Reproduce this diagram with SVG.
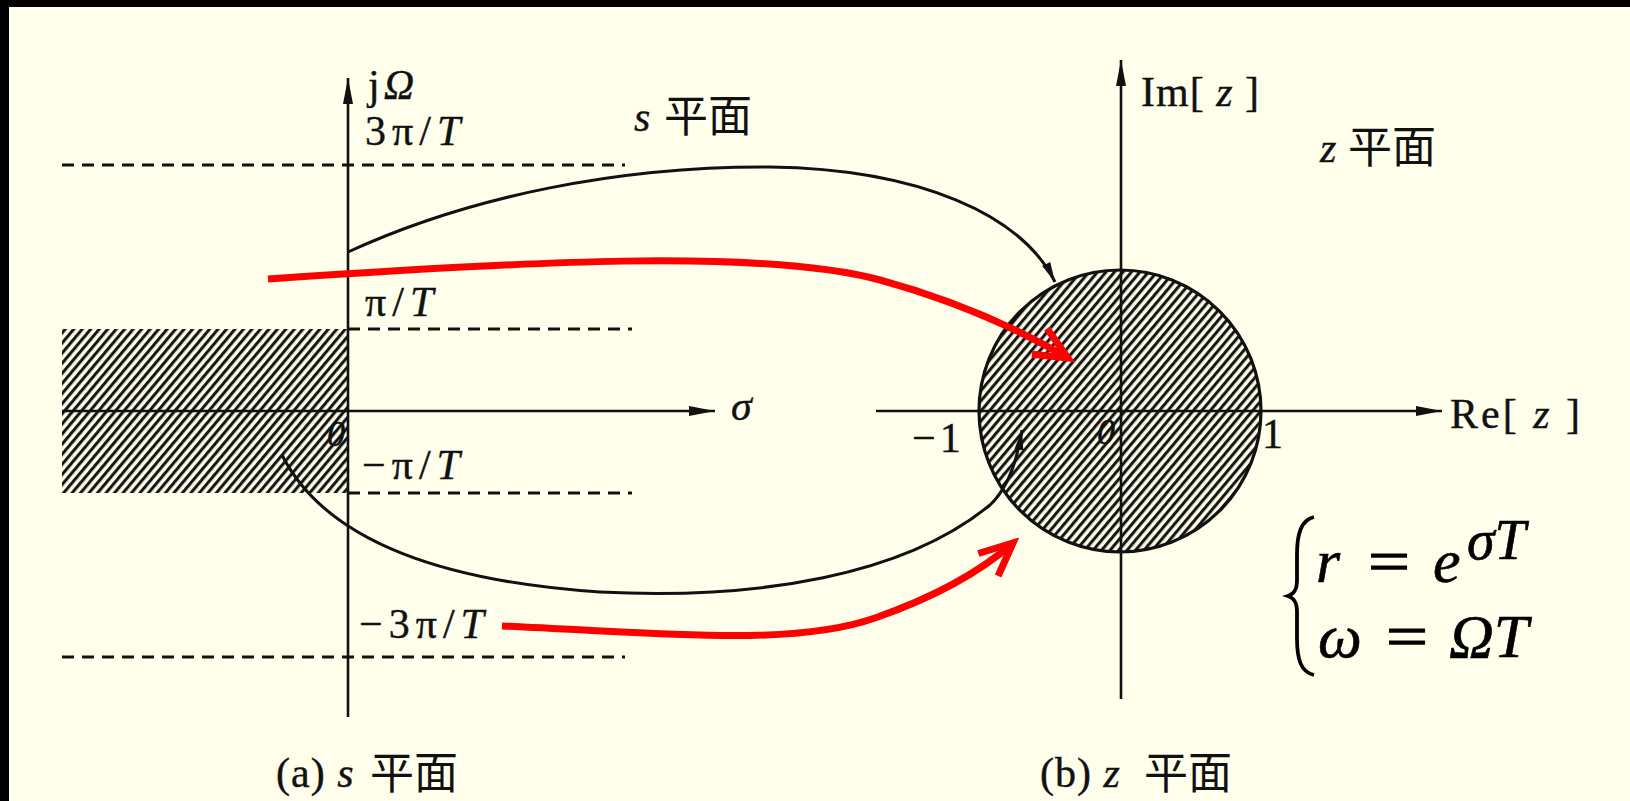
<svg xmlns="http://www.w3.org/2000/svg" width="1630" height="801" viewBox="0 0 1630 801">
<defs>
<style>
.ax{stroke:#111;stroke-width:2.6;fill:none}
.dash{stroke:#111;stroke-width:3;stroke-dasharray:12 8;fill:none}
.curve{stroke:#111;stroke-width:3;fill:none}
.red{stroke:#FF0000;stroke-width:7;fill:none}
.lbl{font-family:"Liberation Serif","Noto Sans CJK SC",serif;font-size:42px;letter-spacing:4px;fill:#111;stroke:#111;stroke-width:0.4}
.wide{letter-spacing:6px}
.it{font-style:italic}
.cjk{font-family:"Noto Sans CJK SC","Liberation Serif",sans-serif;font-size:44px;fill:#111}
.math{font-family:"Liberation Serif",serif;font-style:italic;font-size:62px;fill:#000;stroke:#000;stroke-width:0.6}
.mathr{font-family:"Liberation Serif",serif;font-size:62px;fill:#000;stroke:#000;stroke-width:1.2}
</style>
<pattern id="hatch" patternUnits="userSpaceOnUse" width="6.5" height="20" patternTransform="rotate(40)">
<rect width="6.5" height="20" fill="#FFFFEC"/>
<line x1="1.6" y1="0" x2="1.6" y2="20" stroke="#111" stroke-width="3"/>
</pattern>
<marker id="tri" markerUnits="userSpaceOnUse" markerWidth="30" markerHeight="14" viewBox="-28 -7 30 14" refX="0" refY="0" orient="auto">
<path d="M0,0 L-26,-5 L-26,5 Z" fill="#111"/>
</marker>
<marker id="tris" markerUnits="userSpaceOnUse" markerWidth="24" markerHeight="14" viewBox="-22 -7 24 14" refX="0" refY="0" orient="auto">
<path d="M0,0 L-20,-4.5 L-20,4.5 Z" fill="#111"/>
</marker>
<marker id="vred" markerUnits="userSpaceOnUse" markerWidth="50" markerHeight="50" viewBox="-40 -25 50 50" refX="0" refY="0" orient="auto">
<path d="M-33,-15 L0,0 L-33,15" fill="none" stroke="#FF0000" stroke-width="7"/>
</marker>
</defs>

<rect x="0" y="0" width="1630" height="801" fill="#000"/>
<rect x="9" y="7" width="1621" height="794" fill="#FFFFEC"/>

<g id="s-plane">
<rect x="62" y="329" width="286" height="164" fill="url(#hatch)"/>
<line class="dash" x1="62" y1="165" x2="625" y2="165"/>
<line class="dash" x1="348" y1="329" x2="632" y2="329"/>
<line class="dash" x1="348" y1="493" x2="632" y2="493"/>
<line class="dash" x1="62" y1="657" x2="625" y2="657"/>
<line class="ax" x1="348" y1="717" x2="348" y2="78" marker-end="url(#tri)"/>
<line class="ax" x1="62" y1="411" x2="715" y2="411" marker-end="url(#tri)"/>
<text class="lbl" x="368" y="99">j<tspan class="it">Ω</tspan></text>
<text class="lbl wide" x="365" y="145">3π/<tspan class="it">T</tspan></text>
<text class="lbl it" x="634" y="131">s</text>
<text class="cjk" x="664" y="132">平面</text>
<text class="lbl wide" x="365" y="316">π/<tspan class="it">T</tspan></text>
<text class="lbl it" x="327" y="446" style="font-size:36px">0</text>
<text class="lbl wide" x="362" y="479">−π/<tspan class="it">T</tspan></text>
<text class="lbl wide" x="359" y="638">−3π/<tspan class="it">T</tspan></text>
<text class="lbl it" x="731" y="420">σ</text>
</g>

<g id="z-plane">
<circle cx="1120" cy="411" r="141" fill="url(#hatch)" stroke="#111" stroke-width="3.2"/>
<line class="ax" x1="1121" y1="699" x2="1121" y2="60" marker-end="url(#tri)"/>
<line class="ax" x1="876" y1="411" x2="1442" y2="411" marker-end="url(#tri)"/>
<text class="lbl" x="1141" y="106" style="letter-spacing:1px">Im[ <tspan class="it">z</tspan> ]</text>
<text class="lbl it" x="1320" y="162">z</text>
<text class="cjk" x="1348" y="163">平面</text>
<text class="lbl" x="1450" y="428" style="letter-spacing:3px">Re[ <tspan class="it">z</tspan> ]</text>
<text class="lbl" x="912" y="452">−1</text>
<text class="lbl it" x="1097" y="444" style="font-size:36px">0</text>
<text class="lbl" x="1262" y="448">1</text>
</g>

<g id="captions">
<text class="lbl" x="276" y="787" style="letter-spacing:1px">(a) <tspan class="it">s</tspan></text>
<text class="cjk" x="370" y="789">平面</text>
<text class="lbl" x="1040" y="787" style="letter-spacing:1px">(b) <tspan class="it">z</tspan></text>
<text class="cjk" x="1144" y="789">平面</text>
</g>

<g id="formula">
<path d="M1314,517 C1301,520 1297,534 1297,555 L1297,580 C1297,590 1294,594 1288,596 C1294,598 1297,602 1297,612 L1297,638 C1297,660 1301,672 1314,675" fill="none" stroke="#000" stroke-width="3.8"/>
<text class="math" x="1316" y="582">r</text>
<text class="mathr" transform="translate(1368,582) scale(1.2,1)" x="0" y="0">=</text>
<text class="math" x="1433" y="582">e</text>
<text class="math" x="1467" y="559" style="font-size:56px">σT</text>
<text class="math" x="1318" y="657">ω</text>
<text class="mathr" transform="translate(1386,657) scale(1.2,1)" x="0" y="0">=</text>
<text class="math" x="1449" y="657">ΩT</text>
</g>

<g id="connectors">
<path class="curve" d="M348,252 C470,196 620,166 770,167 C920,169 1022,215 1055,282" marker-end="url(#tris)"/>
<path class="curve" d="M282,455 C320,530 420,580 600,592 C760,600 905,575 990,505 C1008,488 1017,462 1022,430" marker-end="url(#tris)"/>
<path class="red" d="M268,279 C520,262 760,248 880,280 C960,302 1020,330 1068,358" marker-end="url(#vred)"/>
<path class="red" d="M502,626 C650,632 790,648 875,618 C935,597 980,572 1013,543" marker-end="url(#vred)"/>
</g>
</svg>
